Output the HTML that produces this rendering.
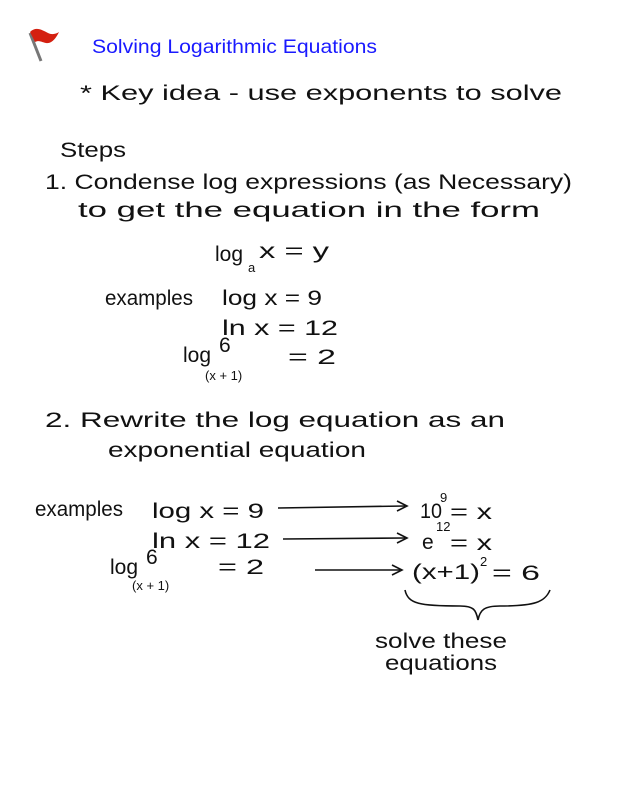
<!DOCTYPE html>
<html><head><meta charset="utf-8"><style>
html,body{margin:0;padding:0;background:#fff;width:618px;height:800px;overflow:hidden}
svg text{font-family:"Liberation Sans",sans-serif;fill:#111}
.h{font-size:21px}
.s{font-size:13px}
</style></head><body>
<svg width="618" height="800" viewBox="0 0 618 800" xmlns="http://www.w3.org/2000/svg">
<line x1="30" y1="33" x2="41" y2="61" stroke="#777" stroke-width="3"/>
<path d="M30 32 C36 26 42 30 48 33 C52 35 56 34 59 32 C56 38 52 44 46 43 C41 42 39 40 35 42 Z" fill="#d42010"/>
<text x="92" y="53" textLength="285" lengthAdjust="spacingAndGlyphs" style="font-size:19px;fill:#1a1aff">Solving Logarithmic Equations</text>

<text class="h" x="80" y="100" textLength="482" lengthAdjust="spacingAndGlyphs">*  Key  idea - use  exponents  to solve</text>
<text class="h" x="60" y="157" textLength="66" lengthAdjust="spacingAndGlyphs">Steps</text>
<text class="h" x="45" y="189" textLength="527" lengthAdjust="spacingAndGlyphs">1.  Condense  log  expressions (as  Necessary)</text>
<text class="h" x="78" y="217" textLength="462" lengthAdjust="spacingAndGlyphs">to  get  the  equation  in  the  form</text>

<text class="h" x="215" y="261">log</text><text class="s" x="248" y="272">a</text><text class="h" x="259" y="258" textLength="70" lengthAdjust="spacingAndGlyphs">x = y</text>

<text class="h" x="105" y="305" textLength="88" lengthAdjust="spacingAndGlyphs">examples</text>
<text class="h" x="222" y="305" textLength="100" lengthAdjust="spacingAndGlyphs">log x = 9</text>
<text class="h" x="222" y="335" textLength="116" lengthAdjust="spacingAndGlyphs">ln x = 12</text>
<text class="h" x="183" y="362">log</text><text class="h" x="219" y="352">6</text><text class="s" x="205" y="380">(x + 1)</text><text class="h" x="288" y="364" textLength="48" lengthAdjust="spacingAndGlyphs">= 2</text>

<text class="h" x="45" y="427" textLength="460" lengthAdjust="spacingAndGlyphs">2.   Rewrite  the  log  equation  as    an</text>
<text class="h" x="108" y="457" textLength="258" lengthAdjust="spacingAndGlyphs">exponential  equation</text>

<text class="h" x="35" y="516" textLength="88" lengthAdjust="spacingAndGlyphs">examples</text>
<text class="h" x="152" y="518" textLength="112" lengthAdjust="spacingAndGlyphs">log x = 9</text>
<text class="h" x="152" y="548" textLength="118" lengthAdjust="spacingAndGlyphs">ln x = 12</text>
<text class="h" x="110" y="574">log</text><text class="h" x="146" y="564">6</text><text class="s" x="132" y="590">(x + 1)</text><text class="h" x="218" y="574" textLength="46" lengthAdjust="spacingAndGlyphs">= 2</text>

<g stroke="#111" stroke-width="1.6" fill="none">
<line x1="278" y1="508" x2="405" y2="506"/><path d="M397 501 L407 506 L397 511"/>
<line x1="283" y1="539" x2="405" y2="538"/><path d="M397 533 L407 538 L397 543"/>
<line x1="315" y1="570" x2="400" y2="570"/><path d="M392 565 L402 570 L392 575"/>
<path d="M405 590 C408 604 420 606 460 606 C474 606 476 610 478 620 C480 610 484 606 500 606 C535 606 545 602 550 590"/>
</g>

<text class="h" x="420" y="518" textLength="22" lengthAdjust="spacingAndGlyphs">10</text><text class="s" x="440" y="502">9</text><text class="h" x="450" y="519" textLength="42" lengthAdjust="spacingAndGlyphs">= x</text>
<text class="h" x="422" y="549">e</text><text class="s" x="436" y="531">12</text><text class="h" x="450" y="550" textLength="42" lengthAdjust="spacingAndGlyphs">= x</text>
<text class="h" x="412" y="579" textLength="68" lengthAdjust="spacingAndGlyphs">(x+1)</text><text class="s" x="480" y="566">2</text><text class="h" x="492" y="580" textLength="48" lengthAdjust="spacingAndGlyphs">= 6</text>

<text class="h" x="375" y="648" textLength="132" lengthAdjust="spacingAndGlyphs">solve these</text>
<text class="h" x="385" y="670" textLength="112" lengthAdjust="spacingAndGlyphs">equations</text>
</svg>
</body></html>
